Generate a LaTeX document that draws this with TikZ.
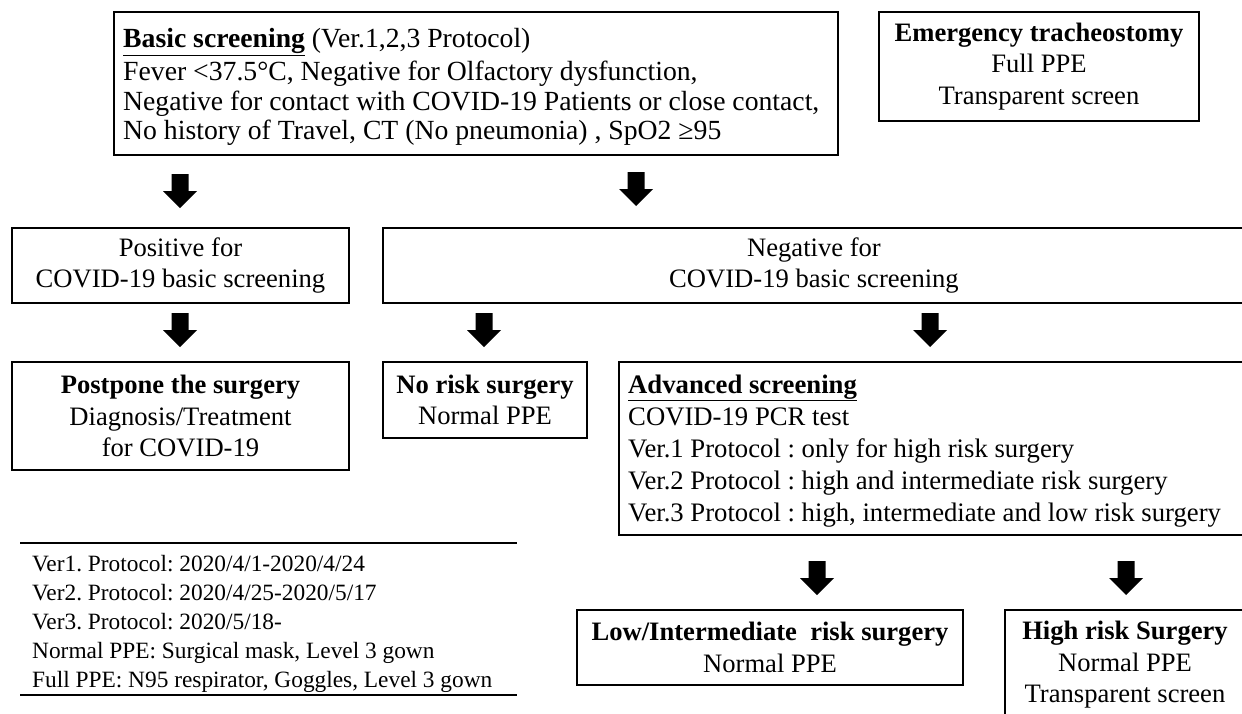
\documentclass[tikz,border=0pt]{standalone}
\usepackage{fontspec}
\setmainfont{Liberation Serif}
\frenchspacing
\begin{document}
\begin{tikzpicture}[x=1pt,y=-1pt,
  box/.style={draw, line width=1.2pt, inner sep=0pt, align=center,
    font=\fontsize{26.6}{31.5}\selectfont},
  ltext/.style={inner sep=0pt, align=left, anchor=west},
  barrow/.pic={\fill (-8.5,0) -- (8.5,0) -- (8.5,17) -- (17,17) -- (0,34) -- (-17,17) -- (-8.5,17) -- cycle;},
  legend/.style={inner sep=0pt, align=left, font=\fontsize{23.35}{29}\selectfont},
  rule/.style={line width=1.2pt}]
\useasboundingbox (0,0) rectangle (1242,713);

\node[box, minimum width=724, minimum height=143] (basic) at (476,83.5) {};
\node[ltext, font=\fontsize{27.7}{29.8}\selectfont] (basicT) at (123,87)
  {\textbf{\underline{Basic screening}} (Ver.1,2,3 Protocol)\\[3pt]
   Fever <37.5°C, Negative for Olfactory dysfunction,\\
   Negative for contact with COVID-19 Patients or close contact,\\
   No history of Travel, CT (No pneumonia) , SpO2 ≥95};

\node[box, minimum width=320, minimum height=109] (emerg) at (1039,66.5)
  {\textbf{Emergency tracheostomy}\\Full PPE\\Transparent screen};

\node[box, minimum width=337, minimum height=75] (pos) at (180.5,265.5)
  {Positive for\\COVID-19 basic screening};
\node[box, minimum width=862, minimum height=75] (neg) at (814,265.5)
  {Negative for\\COVID-19 basic screening};

\node[box, minimum width=337, minimum height=108] (post) at (180.5,416)
  {\textbf{Postpone the surgery}\\Diagnosis/Treatment\\for COVID-19};
\node[box, minimum width=204, minimum height=76] (norisk) at (485,400)
  {\textbf{No risk surgery}\\Normal PPE};
\node[box, minimum width=626, minimum height=173] (adv) at (932,448.5) {};
\node[ltext, font=\fontsize{26.7}{32}\selectfont] (advT) at (628,451)
  {\textbf{\underline{Advanced screening}}\\
   COVID-19 PCR test\\
   Ver.1 Protocol : only for high risk surgery\\
   Ver.2 Protocol : high and intermediate risk surgery\\
   Ver.3 Protocol : high, intermediate and low risk surgery};

\node[box, minimum width=386, minimum height=75] (low) at (770,647.5)
  {\textbf{Low/Intermediate\ \ risk surgery}\\Normal PPE};
\node[box, minimum width=240, minimum height=110] (high) at (1125,665)
  {\textbf{High risk Surgery}\\Normal PPE\\Transparent screen};

% arrows
\coordinate (a1) at (180,174);
\coordinate (a2) at (636,172);
\coordinate (a3) at (180,313);
\coordinate (a4) at (484,313);
\coordinate (a5) at (930,313);
\coordinate (a6) at (817,561);
\coordinate (a7) at (1126,561);
\foreach \c in {a1,a2,a3,a4,a5,a6,a7} \pic at (\c) {barrow};

% legend
\coordinate (l1) at (20,543);
\coordinate (l2) at (517,543);
\coordinate (l3) at (20,695);
\coordinate (l4) at (517,695);
\draw[rule] (l1) -- (l2);
\draw[rule] (l3) -- (l4);
\node[legend, anchor=west] (leg) at (32,624)
  {Ver1. Protocol: 2020/4/1-2020/4/24\\
   Ver2. Protocol: 2020/4/25-2020/5/17\\
   Ver3. Protocol: 2020/5/18-\\
   Normal PPE: Surgical mask, Level 3 gown\\
   Full PPE: N95 respirator, Goggles, Level 3 gown};
\end{tikzpicture}
\end{document}
